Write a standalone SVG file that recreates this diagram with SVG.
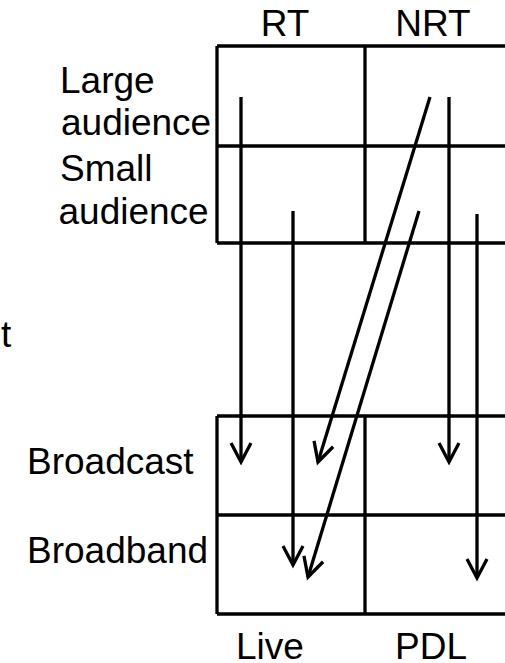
<svg xmlns="http://www.w3.org/2000/svg" width="505" height="663" viewBox="0 0 505 663">
<style>
.t{font-family:"Liberation Sans",Arial,sans-serif;font-size:37px;fill:#000}
.g{stroke:#000;stroke-width:3.3;fill:none}
.a{stroke:#000;stroke-width:3.3;fill:none;marker-end:url(#v)}
</style>
<defs>
<marker id="v" markerUnits="userSpaceOnUse" markerWidth="30" markerHeight="30" viewBox="-25 -15 30 30" refX="0" refY="0" orient="auto" overflow="visible">
<path d="M-19,-10 L0,0 L-19,10" fill="none" stroke="#000" stroke-width="3.3"/>
</marker>
</defs>
<rect width="505" height="663" fill="#fff"/>
<g id="top-grid">
<path class="g" d="M217,46 H515 M217,146 H515 M217,243 H515 M217,46 V243 M365,46 V243"/>
</g>
<g id="bottom-grid">
<path class="g" d="M217,416 H515 M217,515 H515 M217,614 H515 M217,416 V614 M365,416 V614"/>
</g>
<g id="labels">
<text class="t" x="285" y="36" text-anchor="middle">RT</text>
<text class="t" x="433" y="36" text-anchor="middle">NRT</text>
<text class="t" x="60" y="93">Large</text>
<text class="t" x="61" y="135">audience</text>
<text class="t" x="60" y="181">Small</text>
<text class="t" x="58.5" y="224">audience</text>
<text class="t" x="1" y="347">t</text>
<text class="t" x="27" y="474">Broadcast</text>
<text class="t" x="27" y="563">Broadband</text>
<text class="t" x="270" y="659" text-anchor="middle">Live</text>
<text class="t" x="431" y="659" text-anchor="middle">PDL</text>
</g>
<g id="connectors">
<line class="a" x1="241" y1="97" x2="241" y2="462"/>
<line class="a" x1="293" y1="211" x2="293" y2="565"/>
<line class="a" x1="430" y1="97" x2="318" y2="462"/>
<line class="a" x1="419" y1="211" x2="308" y2="577"/>
<line class="a" x1="449" y1="97" x2="449" y2="462"/>
<line class="a" x1="477" y1="214" x2="477" y2="578"/>
</g>
</svg>
